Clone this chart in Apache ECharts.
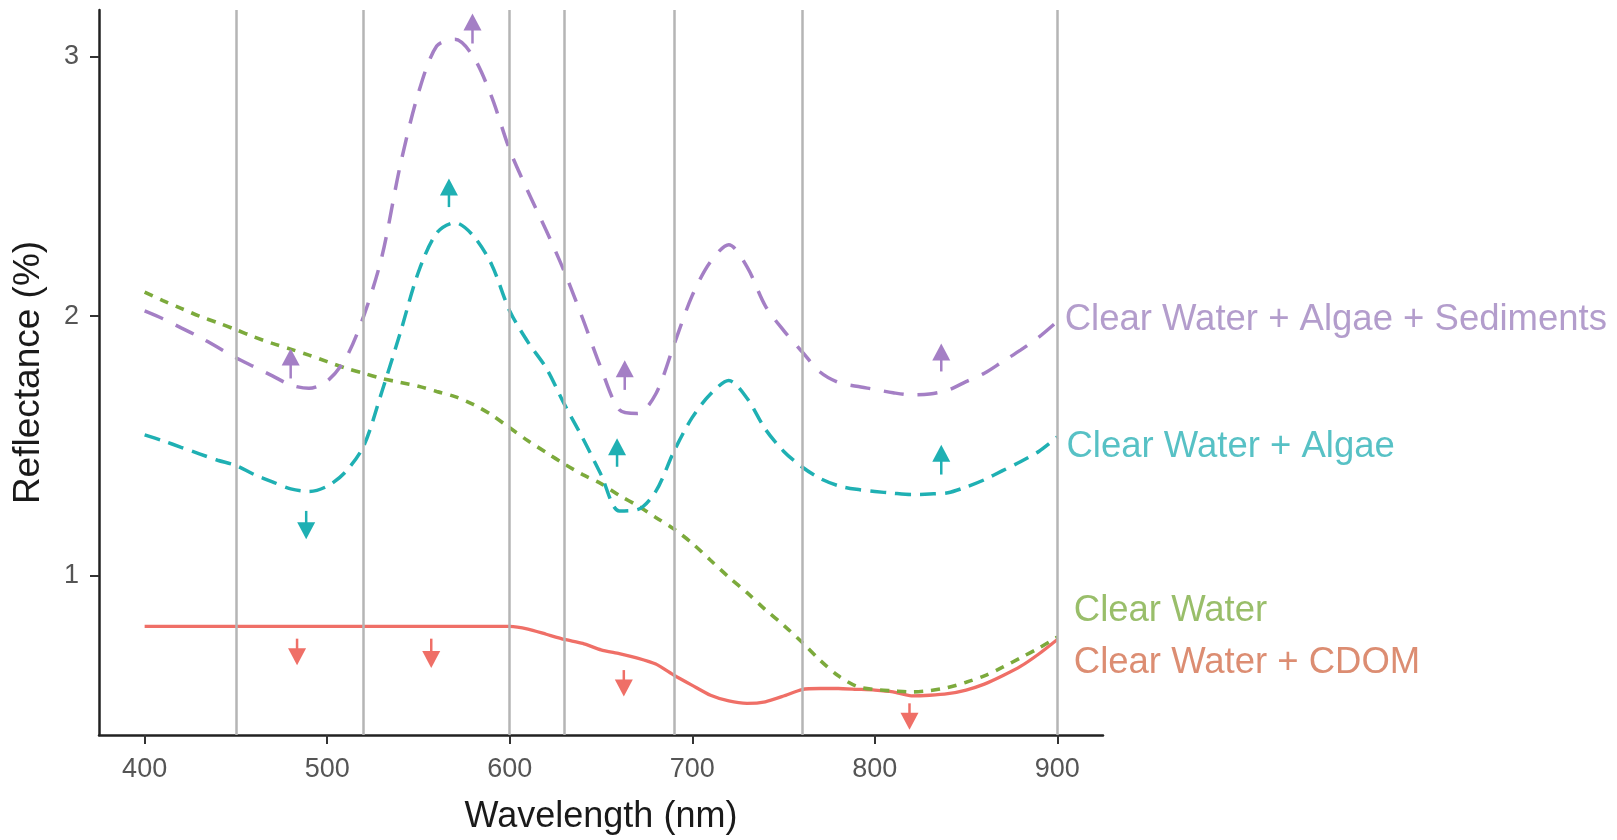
<!DOCTYPE html>
<html>
<head>
<meta charset="utf-8">
<script src="https://cdn.jsdelivr.net/npm/echarts@6/dist/echarts.min.js"></script>
<style>
html,body{margin:0;padding:0;background:#fff;}
#chart{width:1617px;height:840px;}
</style>
</head>
<body>
<div id="chart"></div>
<script>
// ---- data ----
const wavelengths = [400,410,420,430,440,450,460,470,480,490,500,510,520,530,540,550,560,570,580,590,600,
  610,620,630,640,650,660,670,680,690,700,710,720,730,740,750,760,770,780,790,800,810,820,830,840,850,860,870,880,890,900];

const algaeSediments = [2.02,1.99,1.955,1.92,1.88,1.84,1.805,1.77,1.735,1.722,1.75,1.835,2.0,2.23,2.58,2.86,3.04,3.066,3.0,2.846,2.64,
  2.48,2.33,2.17,1.99,1.80,1.64,1.625,1.70,1.89,2.08,2.21,2.275,2.19,2.04,1.945,1.864,1.785,1.745,1.73,1.718,1.705,1.697,1.70,1.715,1.748,1.78,1.825,1.87,1.92,1.98];

const algae = [1.543,1.52,1.495,1.47,1.445,1.425,1.39,1.362,1.335,1.325,1.345,1.40,1.50,1.71,1.935,2.17,2.32,2.36,2.31,2.20,2.02,
  1.90,1.80,1.66,1.53,1.39,1.25,1.255,1.325,1.48,1.61,1.70,1.752,1.684,1.565,1.48,1.42,1.375,1.347,1.333,1.325,1.318,1.313,1.315,1.32,1.342,1.37,1.405,1.44,1.48,1.535];

const clearWater = [2.093,2.06,2.03,2.0,1.975,1.948,1.92,1.895,1.873,1.85,1.825,1.80,1.78,1.76,1.745,1.73,1.71,1.69,1.66,1.62,1.57,
  1.52,1.475,1.43,1.39,1.355,1.31,1.27,1.225,1.18,1.125,1.06,0.995,0.935,0.87,0.81,0.745,0.675,0.615,0.575,0.562,0.557,0.553,0.558,0.57,0.59,0.615,0.648,0.685,0.722,0.764];

const cdom = [0.805,0.805,0.805,0.805,0.805,0.805,0.805,0.805,0.805,0.805,0.805,0.805,0.805,0.805,0.805,0.805,0.805,0.805,0.805,0.805,0.805,
  0.795,0.775,0.755,0.74,0.715,0.70,0.683,0.66,0.617,0.578,0.54,0.518,0.509,0.515,0.537,0.562,0.566,0.566,0.563,0.56,0.553,0.538,0.54,0.546,0.56,0.583,0.615,0.652,0.70,0.755];

// arrows: [wavelength, base value, tip value]
const arrowsSediments = [[480,1.76,1.875],[579.6,3.05,3.166],[663,1.716,1.83],[836.4,1.787,1.895]];
const arrowsAlgae = [[488.5,1.25,1.141],[566.7,2.42,2.53],[658.8,1.42,1.53],[836.4,1.39,1.505]];
const arrowsCdom = [[483.5,0.758,0.656],[557,0.758,0.645],[662.5,0.637,0.535],[819,0.509,0.407]];

// band edges (vertical reference lines)
const bandEdges = [450,520,600,630,690,760,900];

// series labels: [name, x, y]
const seriesLabels = [
  ['Clear Water + Algae + Sediments', 904, 1.985],
  ['Clear Water + Algae', 905, 1.498],
  ['Clear Water', 909, 0.863],
  ['Clear Water + CDOM', 909, 0.666]
];

const xTicks = [400,500,600,700,800,900];
const yTicks = [1,2,3];

// ---- styles ----
const C = {
  sed: '#a47fc5', algae: '#1fb0b3', clear: '#7caa3c', cdom: '#ef6f67'
};
const T = {
  sed: '#a085bf', algae: '#2db2b7', clear: '#7fae45', cdom: '#d3714f'
};
const FONT = '"Liberation Sans", Arial, Helvetica, sans-serif';

function zip(ys){ return wavelengths.map((x,i)=>[x, ys[i]]); }

function arrowSeries(data, color){
  return {
    type: 'custom',
    silent: true,
    z: 5,
    data: data,
    renderItem: function(params, api){
      const x = api.value(0), y0 = api.value(1), y1 = api.value(2);
      const p0 = api.coord([x, y0]);
      const p1 = api.coord([x, y1]);
      const dir = p1[1] > p0[1] ? 1 : -1;
      const hl = 17, hw = 9;
      return {
        type: 'group',
        children: [
          { type: 'line', shape: {x1: p0[0], y1: p0[1], x2: p1[0], y2: p1[1] - dir*hl*0.6},
            style: {stroke: color, lineWidth: 2.5} },
          { type: 'polygon', shape: {points: [[p1[0], p1[1]], [p1[0]-hw, p1[1]-dir*hl], [p1[0]+hw, p1[1]-dir*hl]]},
            style: {fill: color} }
        ]
      };
    }
  };
}

const labelColors = [T.sed, T.algae, T.clear, T.cdom];

const chart = echarts.init(document.getElementById('chart'), null, {renderer: 'canvas'});
chart.setOption({
  animation: false,
  backgroundColor: '#ffffff',
  textStyle: {fontFamily: FONT},
  grid: {left: 99, right: 514, top: 10, bottom: 102, containLabel: false},
  xAxis: {
    type: 'value', min: 375, max: 925,
    name: 'Wavelength (nm)', nameLocation: 'middle', nameGap: 64,
    nameTextStyle: {fontSize: 36, color: '#1a1a1a', fontFamily: FONT},
    axisLine: {show: true, onZero: false, lineStyle: {color: '#222', width: 2.5}},
    axisTick: {show: true, length: 9, lineStyle: {color: '#333', width: 2}, customValues: xTicks},
    axisLabel: {fontSize: 27, color: '#555', margin: 21, fontFamily: FONT, customValues: xTicks},
    splitLine: {show: false}
  },
  yAxis: {
    type: 'value', min: 0.387, max: 3.179,
    name: 'Reflectance (%)', nameLocation: 'middle', nameGap: 52, nameRotate: 90,
    nameTextStyle: {fontSize: 37, color: '#1a1a1a', fontFamily: FONT},
    axisLine: {show: true, onZero: false, lineStyle: {color: '#222', width: 2.5}},
    axisTick: {show: true, length: 9, lineStyle: {color: '#333', width: 2}, customValues: yTicks},
    axisLabel: {fontSize: 27, color: '#555', margin: 20, fontFamily: FONT, customValues: yTicks},
    splitLine: {show: false}
  },
  series: [
    {
      type: 'line', data: [], z: 1, silent: true,
      markLine: {
        silent: true, symbol: ['none','none'], label: {show: false},
        lineStyle: {color: '#b5b5b5', width: 2.5, type: 'solid'},
        emphasis: {disabled: true},
        data: bandEdges.map(v => ({xAxis: v}))
      }
    },
    {
      name: 'Clear Water + CDOM', type: 'line', data: zip(cdom), smooth: 0.2, showSymbol: false, z: 3,
      lineStyle: {color: C.cdom, width: 3.3, type: 'solid'}
    },
    {
      name: 'Clear Water', type: 'line', data: zip(clearWater), smooth: 0.3, showSymbol: false, z: 3,
      lineStyle: {color: C.clear, width: 3.6, type: [9, 8]}
    },
    {
      name: 'Clear Water + Algae', type: 'line', data: zip(algae), smooth: 0.3, showSymbol: false, z: 3,
      lineStyle: {color: C.algae, width: 3.5, type: [16, 9]}
    },
    {
      name: 'Clear Water + Algae + Sediments', type: 'line', data: zip(algaeSediments), smooth: 0.3, showSymbol: false, z: 3,
      lineStyle: {color: C.sed, width: 3.5, type: [20, 14]}
    },
    arrowSeries(arrowsSediments, C.sed),
    arrowSeries(arrowsAlgae, C.algae),
    arrowSeries(arrowsCdom, C.cdom),
    {
      type: 'scatter', symbolSize: 0, silent: true, z: 6,
      data: seriesLabels.map((d,i) => ({value: [d[1], d[2]], name: d[0],
        label: {color: labelColors[i]}})),
      label: {show: true, position: 'right', distance: 0, fontSize: 36.5, fontFamily: FONT,
        formatter: p => p.name}
    }
  ]
});
</script>
</body>
</html>
